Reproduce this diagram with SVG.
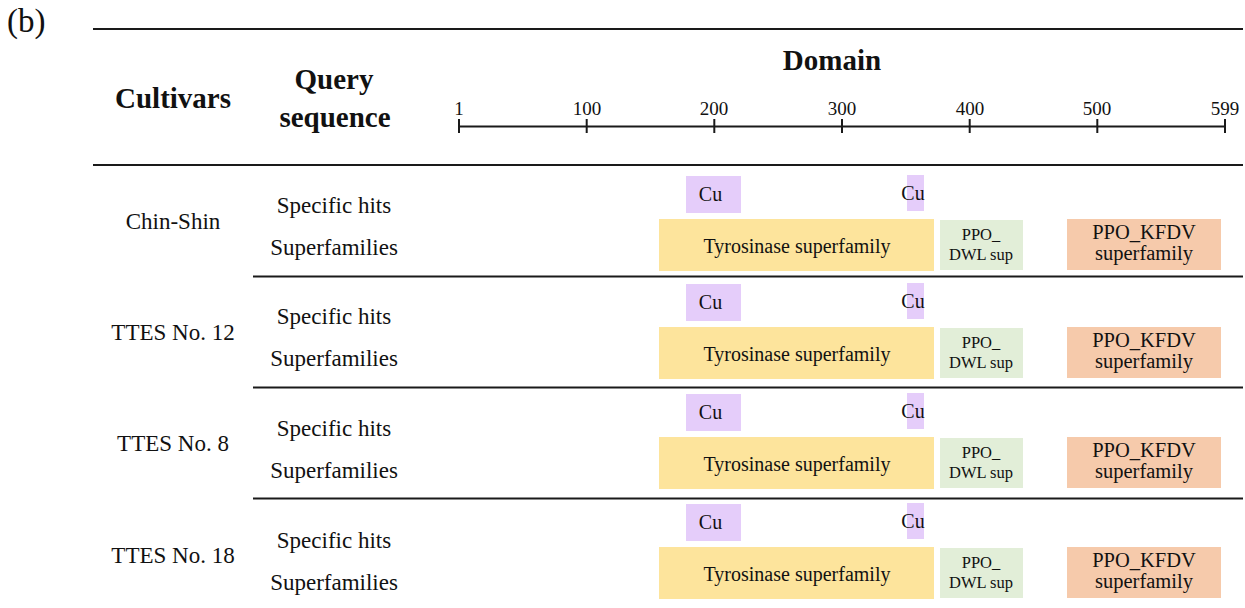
<svg xmlns="http://www.w3.org/2000/svg" width="1245" height="608" viewBox="0 0 1245 608">
<style>
text{font-family:"Liberation Serif","Times New Roman",serif;fill:#111}
.hd{font-weight:bold;font-size:29px;text-anchor:middle}
.lb{font-size:23px;text-anchor:middle}
.ax{font-size:19px;text-anchor:middle}
.bx{font-size:20px;text-anchor:middle}
.kt{font-size:20.5px;text-anchor:middle}
.sm{font-size:16.5px;text-anchor:middle}
.rule{stroke:#1a1a1a;stroke-width:2;fill:none}
.cu{fill:#e5cdfa}
.ty{fill:#fde49c}
.dw{fill:#e2eed8}
.kf{fill:#f6caab}
</style>
<text x="7" y="32" style="font-size:33px">(b)</text>
<g id="rules">
<line class="rule" x1="93" y1="29" x2="1243" y2="29" stroke-width="2.5"/>
<line class="rule" x1="93" y1="165" x2="1243" y2="165"/>
<line class="rule" x1="253" y1="276.5" x2="1243" y2="276.5"/>
<line class="rule" x1="253" y1="387.5" x2="1243" y2="387.5"/>
<line class="rule" x1="253" y1="498.5" x2="1243" y2="498.5"/>
</g>
<g id="header">
<text class="hd" x="173" y="108">Cultivars</text>
<text class="hd" x="334" y="89">Query</text>
<text class="hd" x="335" y="127">sequence</text>
<text class="hd" x="832" y="70">Domain</text>
</g>
<g id="axis">
<line class="rule" x1="459" y1="126.5" x2="1225" y2="126.5"/>
<g class="rule">
<line x1="459" y1="119" x2="459" y2="133"/>
<line x1="586.7" y1="119" x2="586.7" y2="133"/>
<line x1="714.3" y1="119" x2="714.3" y2="133"/>
<line x1="842" y1="119" x2="842" y2="133"/>
<line x1="969.7" y1="119" x2="969.7" y2="133"/>
<line x1="1097.3" y1="119" x2="1097.3" y2="133"/>
<line x1="1225" y1="119" x2="1225" y2="133"/>
</g>
<text class="ax" x="459" y="115">1</text>
<text class="ax" x="587" y="115">100</text>
<text class="ax" x="714" y="115">200</text>
<text class="ax" x="842" y="115">300</text>
<text class="ax" x="970" y="115">400</text>
<text class="ax" x="1097" y="115">500</text>
<text class="ax" x="1225" y="115">599</text>
</g>
<g id="labels">
<text class="lb" x="173" y="229">Chin-Shin</text>
<text class="lb" x="334" y="213">Specific hits</text>
<text class="lb" x="334" y="255">Superfamilies</text>
<text class="lb" x="173" y="340">TTES No. 12</text>
<text class="lb" x="334" y="324">Specific hits</text>
<text class="lb" x="334" y="366">Superfamilies</text>
<text class="lb" x="173" y="451">TTES No. 8</text>
<text class="lb" x="334" y="436">Specific hits</text>
<text class="lb" x="334" y="478">Superfamilies</text>
<text class="lb" x="173" y="563">TTES No. 18</text>
<text class="lb" x="334" y="548">Specific hits</text>
<text class="lb" x="334" y="590">Superfamilies</text>
</g>
<defs>
<g id="domains">
<rect class="cu" x="686" y="176" width="55" height="37"/>
<text class="bx" x="710.5" y="201">Cu</text>
<rect class="cu" x="907" y="175" width="17" height="36"/>
<text class="bx" x="913" y="200">Cu</text>
<rect class="ty" x="659" y="219" width="275" height="52"/>
<text class="bx" x="797" y="253">Tyrosinase superfamily</text>
<rect class="dw" x="940" y="220" width="83" height="50"/>
<text class="sm" x="981" y="240">PPO_</text>
<text class="sm" x="981" y="260">DWL sup</text>
<rect class="kf" x="1067" y="219" width="154" height="51"/>
<text class="kt" x="1144" y="239">PPO_KFDV</text>
<text class="kt" x="1144" y="260">superfamily</text>
</g>
</defs>
<g id="row-chin-shin"><use href="#domains"/></g>
<g id="row-ttes12" transform="translate(0,108)"><use href="#domains"/></g>
<g id="row-ttes8" transform="translate(0,218)"><use href="#domains"/></g>
<g id="row-ttes18" transform="translate(0,328)"><use href="#domains"/></g>
</svg>
